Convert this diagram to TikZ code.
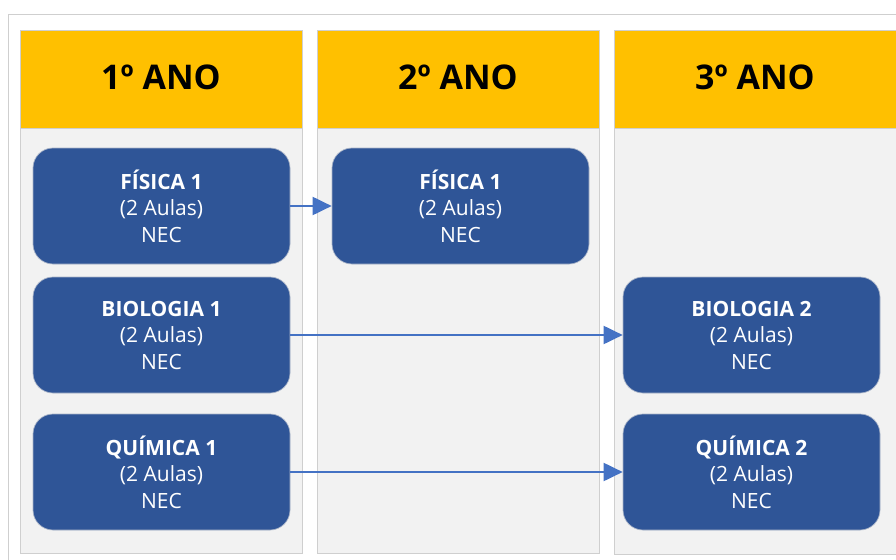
\documentclass[tikz,border=0pt]{standalone}
\usepackage{fontspec}
\setmainfont{Open Sans}
\usetikzlibrary{arrows.meta}
\definecolor{hdr}{HTML}{FFC000}
\definecolor{colbg}{HTML}{F2F2F2}
\definecolor{colline}{HTML}{CFCFCF}
\definecolor{boxfill}{HTML}{2F5597}
\definecolor{boxline}{HTML}{A9B4C8}
\definecolor{arrowblue}{HTML}{4472C4}
\begin{document}
\begin{tikzpicture}[x=1pt,y=-1pt,
  header/.style={fill=hdr,draw=colline,line width=0.8pt},
  body/.style={fill=colbg,draw=colline,line width=0.8pt},
  hdrtext/.style={font=\fontsize{34}{38}\selectfont\bfseries,text=black},
  subject/.style={fill=boxfill,draw=boxline,line width=0.7pt,rounded corners=20pt,
    minimum width=257pt,minimum height=116pt,inner sep=0pt,align=center,text=white,
    font=\fontsize{21}{26.5}\selectfont},
  link/.style={draw=arrowblue,line width=2pt,-{Triangle[length=19pt,width=18pt]}}]
\useasboundingbox (0,0) rectangle (896,559);
\fill[white] (0,0) rectangle (896,559);
% outer frame
\draw[colline,line width=0.8pt] (8,570) -- (8,14) -- (910,14);
% columns
\draw[body] (20,128) rectangle (302,553);
\draw[header] (20,30) rectangle (302,128);
\draw[body] (317,128) rectangle (599,553);
\draw[header] (317,30) rectangle (599,128);
\draw[body] (614,128) rectangle (910,554);
\draw[header] (614,30) rectangle (910,128);
\node[hdrtext] (h1) at (161,77) {1º ANO};
\node[hdrtext] (h2) at (458,77) {2º ANO};
\node[hdrtext] (h3) at (755,77) {3º ANO};
% subjects
\node[subject] (fis1) at (161.5,206) {\textbf{FÍSICA 1}\\(2 Aulas)\\NEC};
\node[subject] (fis2) at (460.5,206) {\textbf{FÍSICA 1}\\(2 Aulas)\\NEC};
\node[subject] (bio1) at (161.5,335) {\textbf{BIOLOGIA 1}\\(2 Aulas)\\NEC};
\node[subject] (bio2) at (751.5,335) {\textbf{BIOLOGIA 2}\\(2 Aulas)\\NEC};
\node[subject] (qui1) at (161.5,472) {\textbf{QUÍMICA 1}\\(2 Aulas)\\NEC};
\node[subject] (qui2) at (751.5,472) {\textbf{QUÍMICA 2}\\(2 Aulas)\\NEC};
% progression links
\draw[link] (fis1.east) -- (fis2.west);
\draw[link] (bio1.east) -- (bio2.west);
\draw[link] (qui1.east) -- (qui2.west);
\end{tikzpicture}
\end{document}
